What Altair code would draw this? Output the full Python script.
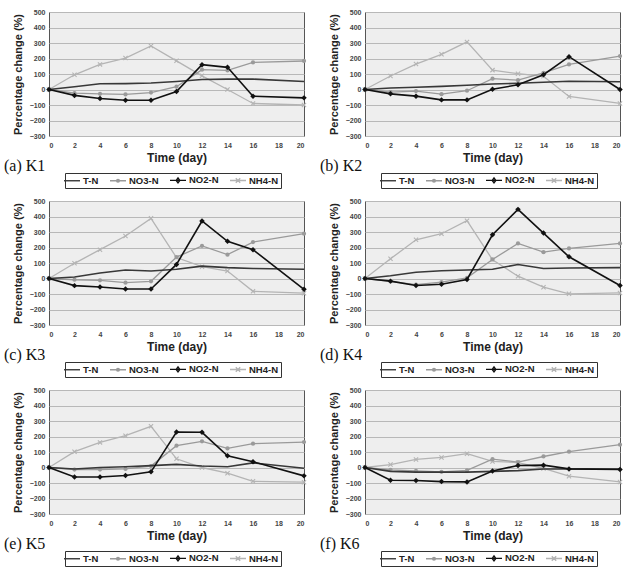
import altair as alt
import pandas as pd

DAYS = [0, 2, 4, 6, 8, 10, 12, 14, 16, 20]
X_TICKS = [0, 2, 4, 6, 8, 10, 12, 14, 16, 18, 20]
Y_TICKS = [-300, -200, -100, 0, 100, 200, 300, 400, 500]
SERIES = ["T-N", "NO3-N", "NO2-N", "NH4-N"]
PANEL_LABELS = ["(a) K1", "(b) K2", "(c) K3", "(d) K4", "(e) K5", "(f) K6"]

K1_TN = [0, 18, 37, 38, 42, 52, 65, 67, 67, 52]
K1_NO3 = [0, -24, -28, -32, -20, 18, 128, 123, 175, 184]
K1_NO2 = [0, -38, -58, -69, -69, -13, 160, 143, -43, -54]
K1_NH4 = [0, 95, 162, 203, 281, 185, 88, 0, -90, -100]

K2_TN = [0, 10, 15, 20, 27, 35, 40, 47, 53, 50]
K2_NO3 = [0, -17, -10, -30, -8, 70, 60, 108, 162, 216]
K2_NO2 = [0, -28, -43, -67, -67, 2, 30, 95, 212, 0]
K2_NH4 = [0, 87, 164, 227, 307, 125, 102, 85, -45, -90]

K3_TN = [0, 10, 35, 55, 48, 60, 80, 70, 65, 60]
K3_NO3 = [0, -8, -12, -27, -18, 138, 210, 154, 235, 289]
K3_NO2 = [0, -46, -55, -68, -68, 91, 371, 240, 186, -70]
K3_NH4 = [0, 98, 186, 274, 388, 135, 76, 48, -83, -95]

K4_TN = [0, 18, 40, 50, 55, 60, 90, 65, 68, 70]
K4_NO3 = [0, -19, -39, -24, 4, 123, 226, 170, 194, 226]
K4_NO2 = [0, -17, -45, -37, -6, 282, 446, 293, 140, -45]
K4_NH4 = [0, 127, 250, 289, 373, 121, 15, -56, -99, -93]

K5_TN = [0, -10, 0, 5, 12, 20, 10, 5, 30, -5]
K5_NO3 = [0, -13, -13, -9, 9, 141, 169, 123, 154, 164]
K5_NO2 = [0, -61, -61, -52, -28, 229, 227, 76, 37, -54]
K5_NH4 = [0, 102, 162, 205, 266, 56, 0, -37, -89, -95]

K6_TN = [0, -25, -30, -30, -30, -25, -20, -10, -10, -10]
K6_NO3 = [0, -15, -22, -28, -19, 54, 35, 71, 102, 147]
K6_NO2 = [0, -82, -84, -91, -93, -22, 13, 15, -9, -13]
K6_NH4 = [0, 19, 52, 65, 89, 39, 32, -6, -56, -93]

PANEL_DATA = [
    [K1_TN, K1_NO3, K1_NO2, K1_NH4],
    [K2_TN, K2_NO3, K2_NO2, K2_NH4],
    [K3_TN, K3_NO3, K3_NO2, K3_NH4],
    [K4_TN, K4_NO3, K4_NO2, K4_NH4],
    [K5_TN, K5_NO3, K5_NO2, K5_NH4],
    [K6_TN, K6_NO3, K6_NO2, K6_NH4],
]

COLORS = ["#383838", "#9a9a9a", "#111111", "#b4b4b4"]
WIDTHS = [1.6, 1.3, 1.6, 1.3]
XMARK = "M-1,-1L1,1M-1,1L1,-1"
LEG_PATHS = [
    "M-2,0L2,0",
    "M-2,0L2,0M0.35,0A0.35,0.35,0,1,1,-0.35,0A0.35,0.35,0,1,1,0.35,0",
    "M-2,0L2,0M0,-0.6L0.45,0L0,0.6L-0.45,0Z",
    "M-2,0L2,0M-0.55,-0.55L0.55,0.55M-0.55,0.55L0.55,-0.55",
]

SANS = "Liberation Sans"
W, H = 255, 124


def make_panel(label, values):
    rows = []
    for s, vals in zip(SERIES, values):
        for d, v in zip(DAYS, vals):
            rows.append({"day": d, "value": v, "series": s})
    df = pd.DataFrame(rows)

    x = alt.X("day:Q", scale=alt.Scale(domain=[0, 20], nice=False),
              axis=alt.Axis(values=X_TICKS, title="Time (day)", grid=False, ticks=False,
                            domain=False, labelFontSize=7, labelFontWeight="bold",
                            labelColor="#444", labelPadding=5, labelFont=SANS,
                            titleFont=SANS, titleFontSize=12, titleFontWeight="bold",
                            titleColor="#222", titlePadding=4))
    y = alt.Y("value:Q", scale=alt.Scale(domain=[-300, 500], nice=False),
              axis=alt.Axis(values=Y_TICKS, title="Percentage change (%)", grid=True,
                            gridColor="#b8b8b8", gridWidth=1, ticks=False, domain=False,
                            labelFontSize=7, labelFontWeight="bold", labelColor="#444",
                            labelPadding=4, labelFont=SANS, titleFont=SANS,
                            titleFontSize=11, titleFontWeight="bold", titleColor="#222",
                            titlePadding=6))
    base = alt.Chart(df).encode(x=x, y=y)

    def sel(name):
        return base.transform_filter(alt.datum.series == name)

    legend = alt.Legend(title=None, orient="none", legendX=16, legendY=161,
                        direction="horizontal", columns=4, symbolSize=64,
                        symbolStrokeWidth=1.4, symbolOpacity=1,
                        labelFont=SANS, labelFontSize=9.5, labelFontWeight="bold",
                        labelColor="#222", labelOffset=6, columnPadding=8,
                        strokeColor="#333", padding=2, fillColor="white")
    leg = base.mark_point(filled=False, opacity=0).encode(
        color=alt.Color("series:N", scale=alt.Scale(domain=SERIES, range=COLORS), legend=legend),
        shape=alt.Shape("series:N", scale=alt.Scale(domain=SERIES, range=LEG_PATHS), legend=legend),
    )

    l_nh4 = sel("NH4-N").mark_line(color=COLORS[3], strokeWidth=WIDTHS[3])
    l_no3 = sel("NO3-N").mark_line(color=COLORS[1], strokeWidth=WIDTHS[1])
    l_tn = sel("T-N").mark_line(color=COLORS[0], strokeWidth=WIDTHS[0])
    l_no2 = sel("NO2-N").mark_line(color=COLORS[2], strokeWidth=WIDTHS[2])
    p_nh4 = sel("NH4-N").mark_point(shape=XMARK, filled=False, size=18, color=COLORS[3],
                                    strokeWidth=1.1, opacity=1)
    p_no3 = sel("NO3-N").mark_point(shape="circle", filled=True, size=18, color=COLORS[1],
                                    opacity=1)
    p_no2 = sel("NO2-N").mark_point(shape="diamond", filled=True, size=30, color=COLORS[2],
                                    opacity=1)

    lab = alt.Chart(pd.DataFrame({"label": [label]})).mark_text(
        font="Liberation Serif", fontSize=16, align="left", baseline="alphabetic", color="#111"
    ).encode(text="label:N", x=alt.value(-45), y=alt.value(159))

    return alt.layer(leg, l_nh4, p_nh4, l_no3, p_no3, l_tn, l_no2, p_no2, lab).properties(
        width=W, height=H,
        view=alt.ViewBackground(fill="#eeeeee", stroke="#555555", strokeWidth=1),
    )


def indep(c):
    return c.resolve_scale(color="independent", shape="independent").resolve_legend(
        color="independent", shape="independent")


panels = [make_panel(l, v) for l, v in zip(PANEL_LABELS, PANEL_DATA)]
rows = [indep(alt.hconcat(panels[i], panels[i + 1], spacing=9)) for i in (0, 2, 4)]
chart = indep(alt.vconcat(*rows, spacing=7)).properties(
    padding={"left": 3, "top": 7, "right": 0, "bottom": 0}
)

chart.save("out.html", embed_options={"renderer": "svg", "actions": False})
